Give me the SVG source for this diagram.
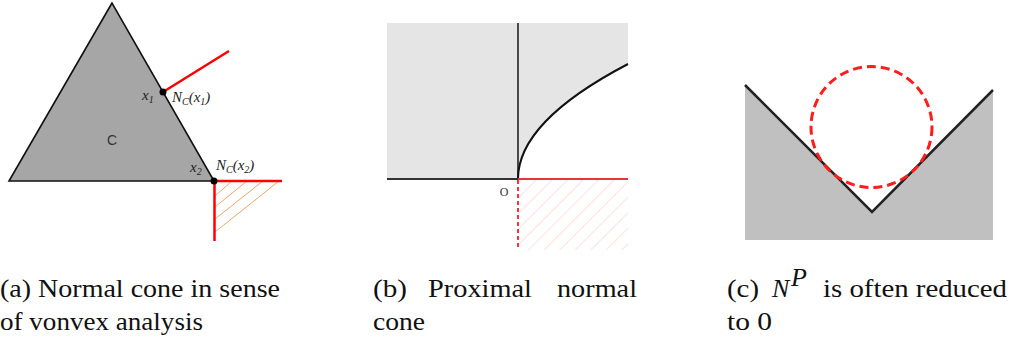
<svg xmlns="http://www.w3.org/2000/svg" width="1013" height="338" viewBox="0 0 1013 338">
<style>
.cap{font-family:"Liberation Serif","Times New Roman","DejaVu Serif",serif;font-size:26px;fill:#111}
.m{font-family:"Liberation Serif","DejaVu Serif",serif;font-style:italic;font-size:15px;fill:#222}
.sub{font-size:10px}
.red{stroke:#ff0000;stroke-width:2.5;fill:none}
</style>
<defs>
<pattern id="hatchB" patternUnits="userSpaceOnUse" width="11" height="11" patternTransform="rotate(45)">
<line x1="0" y1="0" x2="0" y2="11" stroke="#ffc4c4" stroke-width="1"/>
</pattern>
<filter id="soft" x="-5%" y="-5%" width="110%" height="110%"><feGaussianBlur stdDeviation="0.7"/></filter>
</defs>
<g id="panelA">
<polygon points="112,3 9,181 214,181" fill="#a6a6a6" stroke="#111" stroke-width="1.6" stroke-linejoin="miter"/>
<text x="112" y="145" font-family="Liberation Sans, sans-serif" font-size="14" fill="#333" text-anchor="middle">C</text>
<g stroke="#f4a46c" stroke-width="1">
<line x1="215" y1="196" x2="232" y2="181"/>
<line x1="215" y1="207" x2="247" y2="181"/>
<line x1="215" y1="219" x2="263" y2="181"/>
<line x1="215" y1="232" x2="279" y2="181"/>
</g>
<line class="red" x1="163" y1="92" x2="229" y2="51"/>
<line class="red" x1="214" y1="181" x2="282" y2="181"/>
<line class="red" x1="214.5" y1="181" x2="214.5" y2="241"/>
<circle cx="163" cy="92" r="3.5" fill="#000"/>
<circle cx="214" cy="181" r="3.5" fill="#000"/>
<text class="m" x="142" y="100">x<tspan class="sub" dy="3">1</tspan></text>
<text class="m" x="172" y="102">N<tspan class="sub" dy="3">C</tspan><tspan dy="-3">(x</tspan><tspan class="sub" dy="3">1</tspan><tspan dy="-3">)</tspan></text>
<text class="m" x="190" y="172">x<tspan class="sub" dy="3">2</tspan></text>
<text class="m" x="216" y="170">N<tspan class="sub" dy="3">C</tspan><tspan dy="-3">(x</tspan><tspan class="sub" dy="3">2</tspan><tspan dy="-3">)</tspan></text>
</g>
<g id="panelB">
<path d="M387,23 H628 V64 Q518,121.5 518,179 H387 Z" fill="#e5e5e5"/>
<rect x="518" y="180" width="110" height="70" fill="url(#hatchB)"/>
<line x1="518" y1="23" x2="518" y2="179" stroke="#222" stroke-width="1.6"/>
<path d="M518,179 Q518,121.5 628,64" fill="none" stroke="#111" stroke-width="2"/>
<line x1="387" y1="179" x2="518" y2="179" stroke="#333" stroke-width="2"/>
<line x1="518" y1="179" x2="628" y2="179" stroke="#dd3b3b" stroke-width="2"/>
<line x1="518" y1="180" x2="518" y2="250" stroke="#ff3333" stroke-width="2" stroke-dasharray="4,3"/>
<text x="504" y="196" font-family="Liberation Serif, DejaVu Serif, serif" font-size="12" fill="#333" text-anchor="middle">O</text>
</g>
<g id="panelC" filter="url(#soft)">
<polygon points="745,85 872,212 993,90 993,240 745,240" fill="#c0c0c0"/>
<polyline points="745,85 872,212 993,90" fill="none" stroke="#222" stroke-width="2.5"/>
<circle cx="871.5" cy="127" r="60.5" fill="none" stroke="#ff1a1a" stroke-width="3" stroke-dasharray="9,5"/>
</g>
<g id="captions">
<text class="cap" x="0" y="297" textLength="280" lengthAdjust="spacingAndGlyphs">(a) Normal cone in sense</text>
<text class="cap" x="0" y="330" textLength="203" lengthAdjust="spacingAndGlyphs">of vonvex analysis</text>
<text class="cap" x="373" y="297" textLength="34" lengthAdjust="spacingAndGlyphs">(b)</text>
<text class="cap" x="428" y="297" textLength="104" lengthAdjust="spacingAndGlyphs">Proximal</text>
<text class="cap" x="557" y="297" textLength="80" lengthAdjust="spacingAndGlyphs">normal</text>
<text class="cap" x="373" y="330" textLength="52" lengthAdjust="spacingAndGlyphs">cone</text>
<text class="cap" x="727" y="297" textLength="32" lengthAdjust="spacingAndGlyphs">(c)</text>
<text class="cap" x="772" y="297" font-style="italic">N</text>
<text class="cap" x="791" y="286" font-style="italic" font-size="18">P</text>
<text class="cap" x="823" y="297" textLength="184" lengthAdjust="spacingAndGlyphs">is often reduced</text>
<text class="cap" x="727" y="330" textLength="45" lengthAdjust="spacingAndGlyphs">to 0</text>
</g>
</svg>
